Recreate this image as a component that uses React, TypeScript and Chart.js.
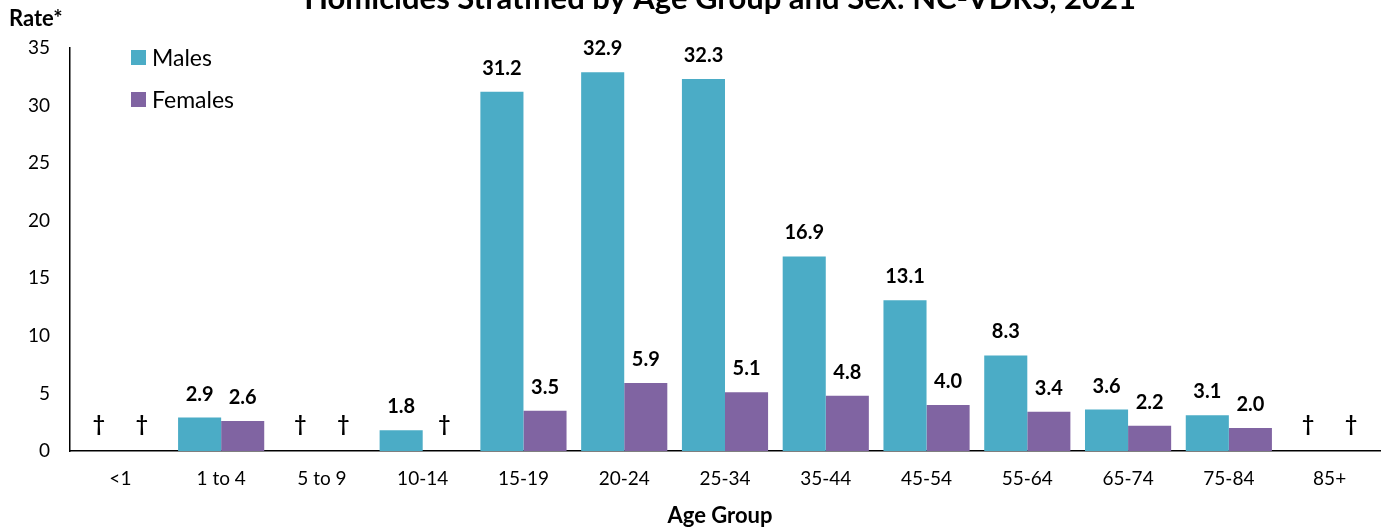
import React, { useEffect, useRef } from "react";
import { Chart, registerables } from "chart.js";

Chart.register(...registerables);

const ageGroups = ["<1", "1 to 4", "5 to 9", "10-14", "15-19", "20-24", "25-34", "35-44", "45-54", "55-64", "65-74", "75-84", "85+"];
// null = suppressed rate, shown with a dagger
const maleRates: (number | null)[] = [null, 2.9, null, 1.8, 31.2, 32.9, 32.3, 16.9, 13.1, 8.3, 3.6, 3.1, null];
const femaleRates: (number | null)[] = [null, 2.6, null, null, 3.5, 5.9, 5.1, 4.8, 4.0, 3.4, 2.2, 2.0, null];
const seriesNames = ["Males", "Females"];
const seriesColors = ["#4BACC6", "#8064A2"];
const yTicks = [0, 5, 10, 15, 20, 25, 30, 35];

const titleText = "Homicides Stratified by Age Group and Sex: NC-VDRS, 2021";
const FONT = "Lato, 'Open Sans', sans-serif";

const annotations = {
  id: "annotations",
  afterDatasetsDraw(chart: any) {
    const { ctx, scales } = chart;
    const y = scales.y;
    ctx.save();
    ctx.fillStyle = "#000";
    ctx.textAlign = "center";
    ctx.textBaseline = "alphabetic";
    chart.data.datasets.forEach((ds: any, di: number) => {
      const meta = chart.getDatasetMeta(di);
      meta.data.forEach((bar: any, i: number) => {
        const v = ds.data[i];
        if (v === null || v === undefined) {
          ctx.font = `bold 21px ${FONT}`;
          ctx.fillText("\u2020", bar.x, y.getPixelForValue(0) - 20);
        } else {
          ctx.font = `bold 20px ${FONT}`;
          ctx.fillText(v.toFixed(1), bar.x, y.getPixelForValue(v) - 17);
        }
      });
    });
    ctx.restore();
  },
  afterDraw(chart: any) {
    const { ctx } = chart;
    ctx.save();
    ctx.fillStyle = "#000";
    // title (top part runs off the canvas)
    ctx.font = `bold 31px ${FONT}`;
    ctx.textAlign = "center";
    ctx.textBaseline = "alphabetic";
    ctx.fillText(titleText, 720, 9);
    // axis titles
    ctx.font = `bold 22px ${FONT}`;
    ctx.textAlign = "left";
    ctx.fillText("Rate*", 9, 26);
    ctx.textAlign = "center";
    ctx.fillText("Age Group", 720, 523);
    // legend
    ctx.font = `23px ${FONT}`;
    ctx.textAlign = "left";
    seriesNames.forEach((name, i) => {
      const top = 50 + i * 42;
      ctx.fillStyle = seriesColors[i];
      ctx.fillRect(131, top, 15, 15);
      ctx.fillStyle = "#000";
      ctx.fillText(name, 152, top + 16);
    });
    ctx.restore();
  },
};

export default function App() {
  const canvasRef = useRef<HTMLCanvasElement | null>(null);

  useEffect(() => {
    if (!canvasRef.current) return;
    const chart = new Chart(canvasRef.current, {
      type: "bar",
      data: {
        labels: ageGroups,
        datasets: [
          { label: seriesNames[0], data: maleRates, backgroundColor: seriesColors[0] },
          { label: seriesNames[1], data: femaleRates, backgroundColor: seriesColors[1] },
        ],
      },
      options: {
        animation: false,
        responsive: false,
        maintainAspectRatio: false,
        layout: { padding: { top: 48, right: 2, left: 0, bottom: 0 } },
        datasets: { bar: { categoryPercentage: 0.855, barPercentage: 1 } },
        plugins: { legend: { display: false }, title: { display: false }, tooltip: { enabled: false } },
        scales: {
          x: {
            grid: { display: false, drawTicks: false },
            border: { display: true, color: "#000", width: 1.5 },
            ticks: { color: "#000", font: { family: FONT, size: 19 }, padding: 16 },
            afterFit(scale: any) {
              scale.height = 76;
            },
          },
          y: {
            min: 0,
            max: 35,
            afterBuildTicks(scale: any) {
              scale.ticks = yTicks.map((value) => ({ value }));
            },
            grid: { display: false, drawTicks: false },
            border: { display: true, color: "#000", width: 1.5 },
            ticks: { color: "#000", font: { family: FONT, size: 19 }, padding: 20 },
            afterFit(scale: any) {
              scale.width = 70;
            },
          },
        },
      },
      plugins: [annotations],
    });
    return () => chart.destroy();
  }, []);

  return (
    <div style={{ position: "absolute", left: 0, top: 0, width: 1382, height: 527, background: "#fff" }}>
      <canvas ref={canvasRef} width={1382} height={527} style={{ display: "block" }} />
    </div>
  );
}
